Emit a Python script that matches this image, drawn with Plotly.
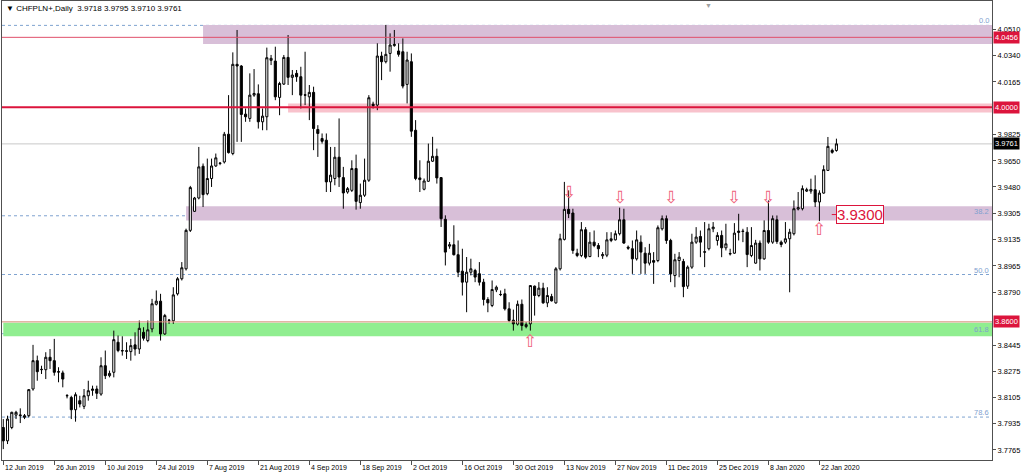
import pandas as pd
import plotly.graph_objects as go

symbol = "CHFPLN+"
timeframe = "Daily"

open_ = [3.7911, 3.7824, 3.7911, 3.7992, 3.7988, 3.7977, 3.7988, 3.8162, 3.8347, 3.8288,
         3.8288, 3.8369, 3.8347, 3.8275, 3.8267, 3.8120, 3.8107, 3.8027, 3.8086, 3.8049,
         3.8118, 3.8153, 3.8162, 3.8129, 3.8314, 3.8249, 3.8271, 3.8467, 3.8413, 3.8411,
         3.8406, 3.8450, 3.8423, 3.8532, 3.8478, 3.8554, 3.8715, 3.8735, 3.8521, 3.8609,
         3.8607, 3.8783, 3.8881, 3.8946, 3.9197, 3.9321, 3.9408, 3.9615, 3.9436, 3.9535,
         3.9617, 3.9633, 3.9643, 3.9824, 3.9698, 4.0280, 4.0269, 3.9955, 3.9927, 4.0079,
         4.0088, 3.9905, 3.9938, 4.0306, 4.0301, 4.0064, 4.0151, 4.0325, 4.0195, 4.0221,
         4.0199, 4.0081, 4.0068, 4.0097, 3.9855, 3.9796, 3.9785, 3.9513, 3.9535, 3.9674,
         3.9541, 3.9447, 3.9458, 3.9600, 3.9378, 3.9426, 3.9524, 4.0020, 4.0014, 4.0334,
         4.0297, 4.0351, 4.0402, 4.0367, 4.0362, 4.0149, 4.0297, 3.9850, 3.9539, 3.9465,
         3.9517, 3.9648, 3.9680, 3.9541, 3.9269, 3.9094, 3.9103, 3.9038, 3.8931, 3.8859,
         3.8924, 3.8935, 3.8914, 3.8859, 3.8746, 3.8707, 3.8809, 3.8779, 3.8783, 3.8685,
         3.8611, 3.8585, 3.8715, 3.8569, 3.8587, 3.8833, 3.8772, 3.8820, 3.8724, 3.8765,
         3.8724, 3.8946, 3.9138, 3.9334, 3.9310, 3.9048, 3.9033, 3.9201, 3.9026, 3.9120,
         3.9098, 3.9031, 3.9035, 3.9131, 3.9135, 3.9175, 3.9266, 3.9087, 3.9077, 3.9011,
         3.9120, 3.9048, 3.8983, 3.9000, 3.9000, 3.9207, 3.9273, 3.9131, 3.8902, 3.9000,
         3.8994, 3.8833, 3.8957, 3.9120, 3.9157, 3.9057, 3.9077, 3.9207, 3.9131, 3.9164,
         3.9083, 3.9046, 3.9048, 3.9183, 3.9192, 3.9185, 3.9033, 3.8983, 3.9114, 3.9011,
         3.9196, 3.9120, 3.9266, 3.9120, 3.9120, 3.9142, 3.9175, 3.9336, 3.9338, 3.9453,
         3.9453, 3.9462, 3.9382, 3.9440, 3.9588, 3.9719, 3.9718]
high = [3.7966, 3.7988, 3.8014, 3.8020, 3.8036, 3.7999, 3.8162, 3.8450, 3.8380, 3.8314,
        3.8402, 3.8423, 3.8489, 3.8304, 3.8282, 3.8129, 3.8118, 3.8140, 3.8118, 3.8162,
        3.8216, 3.8184, 3.8184, 3.8369, 3.8413, 3.8282, 3.8543, 3.8511, 3.8506, 3.8467,
        3.8489, 3.8532, 3.8609, 3.8565, 3.8609, 3.8750, 3.8805, 3.8783, 3.8652, 3.8619,
        3.8826, 3.8892, 3.8990, 3.9208, 3.9487, 3.9415, 3.9741, 3.9633, 3.9665, 3.9665,
        3.9698, 3.9643, 3.9839, 4.0079, 4.0358, 4.0504, 4.0275, 3.9992, 4.0221, 4.0249,
        4.0149, 3.9992, 4.0389, 4.0341, 4.0395, 4.0166, 4.0341, 4.0471, 4.0243, 4.0243,
        4.0264, 4.0362, 4.0145, 4.0134, 3.9883, 3.9829, 3.9829, 3.9741, 3.9741, 3.9927,
        3.9611, 3.9480, 3.9654, 3.9691, 3.9502, 3.9665, 4.0079, 4.0036, 4.0417, 4.0362,
        4.0537, 4.0482, 4.0504, 4.0417, 4.0449, 4.0362, 4.0351, 3.9916, 3.9654, 3.9535,
        3.9763, 3.9807, 3.9730, 3.9545, 3.9295, 3.9121, 3.9230, 3.9131, 3.9077, 3.9023,
        3.9012, 3.8946, 3.8990, 3.8881, 3.8761, 3.8870, 3.8837, 3.8805, 3.8816, 3.8728,
        3.8680, 3.8739, 3.8746, 3.8598, 3.8837, 3.8837, 3.8859, 3.8855, 3.8826, 3.8783,
        3.8957, 3.9175, 3.9513, 3.9458, 3.9338, 3.9077, 3.9251, 3.9218, 3.9185, 3.9196,
        3.9114, 3.9055, 3.9185, 3.9185, 3.9196, 3.9345, 3.9338, 3.9098, 3.9131, 3.9196,
        3.9164, 3.9087, 3.9109, 3.9055, 3.9229, 3.9294, 3.9294, 3.9142, 3.9044, 3.9055,
        3.9011, 3.8968, 3.9175, 3.9218, 3.9196, 3.9251, 3.9240, 3.9251, 3.9185, 3.9196,
        3.9240, 3.9077, 3.9244, 3.9305, 3.9207, 3.9218, 3.9218, 3.9135, 3.9131, 3.9262,
        3.9392, 3.9294, 3.9294, 3.9131, 3.9251, 3.9207, 3.9392, 3.9447, 3.9490, 3.9475,
        3.9534, 3.9556, 3.9458, 3.9621, 3.9806, 3.9730, 3.9795]
low = [3.7770, 3.7803, 3.7900, 3.7966, 3.7940, 3.7966, 3.7977, 3.8151, 3.8216, 3.8260,
       3.8227, 3.8293, 3.8249, 3.8206, 3.8173, 3.8101, 3.7966, 3.7949, 3.8042, 3.8031,
       3.8086, 3.8118, 3.8097, 3.8118, 3.8227, 3.8238, 3.8238, 3.8402, 3.8380, 3.8358,
       3.8347, 3.8380, 3.8391, 3.8478, 3.8467, 3.8532, 3.8707, 3.8478, 3.8515, 3.8587,
       3.8587, 3.8772, 3.8870, 3.8935, 3.9186, 3.9317, 3.9399, 3.9349, 3.9426, 3.9480,
       3.9611, 3.9622, 3.9633, 3.9698, 3.9687, 3.9774, 3.9774, 3.9905, 3.9905, 4.0068,
       3.9861, 3.9850, 3.9850, 4.0275, 4.0046, 3.9948, 4.0145, 4.0145, 4.0079, 4.0166,
       3.9992, 4.0014, 3.9916, 3.9720, 3.9676, 3.9763, 3.9447, 3.9447, 3.9491, 3.9480,
       3.9338, 3.9436, 3.9447, 3.9332, 3.9338, 3.9415, 3.9513, 3.9992, 3.9981, 4.0177,
       4.0286, 4.0232, 4.0395, 4.0330, 4.0123, 4.0025, 3.9807, 3.9524, 3.9447, 3.9458,
       3.9513, 3.9643, 3.9502, 3.9219, 3.8968, 3.9077, 3.9033, 3.8892, 3.8772, 3.8663,
       3.8903, 3.8859, 3.8837, 3.8707, 3.8663, 3.8696, 3.8794, 3.8768, 3.8674, 3.8598,
       3.8543, 3.8576, 3.8543, 3.8558, 3.8543, 3.8641, 3.8761, 3.8718, 3.8696, 3.8733,
       3.8718, 3.8935, 3.9131, 3.9277, 3.9044, 3.9022, 3.9022, 3.9011, 3.9022, 3.9087,
       3.9022, 3.9011, 3.9022, 3.9120, 3.9131, 3.9164, 3.9109, 3.9070, 3.8913, 3.9000,
       3.8913, 3.8913, 3.8968, 3.8848, 3.8989, 3.9196, 3.9109, 3.8859, 3.8826, 3.8891,
       3.8761, 3.8815, 3.8946, 3.9109, 3.9022, 3.8957, 3.9066, 3.9185, 3.9098, 3.9022,
       3.9066, 3.9033, 3.9044, 3.9131, 3.9120, 3.8957, 3.9022, 3.8979, 3.8935, 3.9005,
       3.9109, 3.9109, 3.9109, 3.9087, 3.9109, 3.8793, 3.9164, 3.9327, 3.9327, 3.9447,
       3.9436, 3.9349, 3.9257, 3.9436, 3.9584, 3.9697, 3.9710]
close = [3.7824, 3.7966, 3.8010, 3.8010, 3.7992, 3.7988, 3.8158, 3.8347, 3.8275, 3.8290,
         3.8369, 3.8347, 3.8271, 3.8273, 3.8227, 3.8118, 3.8027, 3.8125, 3.8064, 3.8118,
         3.8151, 3.8162, 3.8134, 3.8314, 3.8249, 3.8264, 3.8484, 3.8413, 3.8411, 3.8409,
         3.8445, 3.8423, 3.8558, 3.8493, 3.8548, 3.8718, 3.8735, 3.8521, 3.8641, 3.8611,
         3.8776, 3.8881, 3.8953, 3.9197, 3.9476, 3.9408, 3.9611, 3.9430, 3.9535, 3.9617,
         3.9670, 3.9635, 3.9824, 3.9704, 4.0280, 4.0269, 3.9953, 3.9938, 4.0079, 4.0090,
         3.9905, 3.9942, 4.0323, 4.0319, 4.0068, 4.0155, 4.0325, 4.0195, 4.0210, 4.0199,
         4.0079, 4.0079, 4.0097, 3.9861, 3.9829, 3.9778, 3.9513, 3.9557, 3.9674, 3.9545,
         3.9441, 3.9469, 3.9600, 3.9386, 3.9426, 3.9524, 4.0062, 4.0010, 4.0334, 4.0297,
         4.0345, 4.0406, 4.0410, 4.0345, 4.0138, 4.0308, 3.9844, 3.9535, 3.9528, 3.9519,
         3.9648, 3.9680, 3.9539, 3.9273, 3.9055, 3.9103, 3.9038, 3.8924, 3.8859, 3.8924,
         3.8946, 3.8892, 3.8859, 3.8746, 3.8724, 3.8811, 3.8826, 3.8778, 3.8685, 3.8609,
         3.8587, 3.8715, 3.8576, 3.8582, 3.8837, 3.8772, 3.8820, 3.8724, 3.8772, 3.8737,
         3.8946, 3.9142, 3.9334, 3.9306, 3.9066, 3.9033, 3.9201, 3.9022, 3.9120, 3.9098,
         3.9077, 3.9039, 3.9135, 3.9142, 3.9175, 3.9266, 3.9114, 3.9081, 3.9011, 3.9135,
         3.9055, 3.8983, 3.9048, 3.8989, 3.9214, 3.9273, 3.9131, 3.8913, 3.9005, 3.9022,
         3.8830, 3.8957, 3.9120, 3.9153, 3.9120, 3.9055, 3.9207, 3.9218, 3.9164, 3.9083,
         3.9109, 3.9044, 3.9179, 3.9192, 3.9190, 3.9039, 3.9098, 3.9114, 3.9011, 3.9196,
         3.9120, 3.9273, 3.9124, 3.9105, 3.9142, 3.9185, 3.9338, 3.9345, 3.9469, 3.9462,
         3.9464, 3.9382, 3.9440, 3.9593, 3.9745, 3.9706, 3.9761]

# broker sessions run Sunday..Friday (no Saturday bars)
all_days = pd.date_range("2019-06-12", "2020-02-15", freq="D")
sessions = [d for d in all_days if d.weekday() != 5][:len(close)]
dates = [d.strftime("%Y-%m-%d") for d in sessions]

x_label_dates = ["2019-06-12", "2019-06-26", "2019-07-10", "2019-07-24", "2019-08-07",
                 "2019-08-21", "2019-09-04", "2019-09-18", "2019-10-02", "2019-10-16",
                 "2019-10-30", "2019-11-13", "2019-11-27", "2019-12-11", "2019-12-25",
                 "2020-01-08", "2020-01-22"]
x_label_text = ["12 Jun 2019", "26 Jun 2019", "10 Jul 2019", "24 Jul 2019", "7 Aug 2019",
                "21 Aug 2019", "4 Sep 2019", "18 Sep 2019", "2 Oct 2019", "16 Oct 2019",
                "30 Oct 2019", "13 Nov 2019", "27 Nov 2019", "11 Dec 2019", "25 Dec 2019",
                "8 Jan 2020", "22 Jan 2020"]

y_ticks = [4.0510, 4.0340, 4.0165, 3.9825, 3.9650, 3.9480, 3.9305, 3.9135, 3.8965,
           3.8790, 3.8445, 3.8275, 3.8105, 3.7935, 3.7765]

fib_labels = ["0.0", "38.2", "50.0", "61.8", "78.6"]
fib_prices = [4.0534, 3.9292, 3.8909, 3.8523, 3.7979]

zone_start = ["2019-08-06", "2019-08-29", "2019-08-01", "2019-06-12"]
zone_top = [4.0537, 4.0025, 3.9354, 3.8594]
zone_bottom = [4.0412, 3.9966, 3.9262, 3.8506]
zone_color = ["#d8bfd8", "#f8c2cc", "#d8bfd8", "#90ee90"]

level_prices = [4.0456, 4.0000, 3.8600]
level_colors = ["#e0506a", "#dc143c", "#d48a72"]
level_widths = [1, 2, 1]

down_arrow_dates = ["2019-11-14", "2019-11-28", "2019-12-12", "2019-12-30", "2020-01-08"]
down_arrow_prices = [3.9445, 3.9412, 3.9412, 3.9412, 3.9412]
up_arrow_dates = ["2019-11-04", "2020-01-22"]
up_arrow_prices = [3.8477, 3.9203]

marked_level = 3.9300

x_range = [-0.3, 232.6]
y_range = [3.7699, 4.0693]
FONT = "Liberation Sans, Arial, sans-serif"
PINK = "#ee5f7a"
RED = "#dc143c"

fig = go.Figure()
fig.add_trace(go.Candlestick(
    x=dates, open=open_, high=high, low=low, close=close,
    increasing=dict(line=dict(color="black", width=1), fillcolor="white"),
    decreasing=dict(line=dict(color="black", width=1), fillcolor="black"),
    whiskerwidth=0, hoverinfo="skip", showlegend=False))

shapes = []
for s, t, b, c in zip(zone_start, zone_top, zone_bottom, zone_color):
    shapes.append(dict(type="rect", xref="x", yref="y", x0=dates.index(s), x1=x_range[1],
                       y0=b, y1=t, fillcolor=c, line=dict(width=0), layer="below"))
for p in fib_prices:
    shapes.append(dict(type="line", xref="paper", yref="y", x0=0, x1=1, y0=p, y1=p,
                       line=dict(color="#7fa3d0", width=1, dash="dot"), layer="below"))
shapes.append(dict(type="line", xref="paper", yref="y", x0=0, x1=1, y0=close[-1], y1=close[-1],
                   line=dict(color="#c8c8c8", width=1), layer="below"))
for p, c, w in zip(level_prices, level_colors, level_widths):
    shapes.append(dict(type="line", xref="paper", yref="y", x0=0, x1=1, y0=p, y1=p,
                       line=dict(color=c, width=w), layer="above"))
last_i = len(dates) - 1
shapes.append(dict(type="line", xref="x", yref="y", x0=last_i - 1.1, x1=last_i,
                   y0=marked_level, y1=marked_level, line=dict(color=RED, width=1)))

ann = []
ann.append(dict(xref="paper", yref="paper", x=0, y=1, xanchor="left", yanchor="top",
                xshift=2, yshift=-1, showarrow=False,
                text=f"▼ {symbol},{timeframe}  {open_[-1]:.4f} {high[-1]:.4f} {low[-1]:.4f} {close[-1]:.4f}",
                font=dict(family=FONT, size=8, color="black")))
ann.append(dict(xref="paper", yref="paper", x=(714 - 2) / 990, y=1, yanchor="top", yshift=1,
                showarrow=False, text="▼", font=dict(family=FONT, size=7, color="#a0a0a0")))
for d, t in zip(x_label_dates, x_label_text):
    ann.append(dict(xref="x", yref="paper", x=dates.index(d), y=0, xanchor="left", yanchor="top",
                    xshift=0, yshift=-2, showarrow=False, text=t,
                    font=dict(family=FONT, size=7, color="black")))
for lab, p in zip(fib_labels, fib_prices):
    ann.append(dict(xref="paper", yref="y", x=1, y=p, xanchor="right", yanchor="bottom",
                    xshift=-1, yshift=-2, showarrow=False, text=lab,
                    font=dict(family=FONT, size=7.5, color="#7f9fcf")))
for p in level_prices:
    ann.append(dict(xref="paper", yref="y", x=1, y=p, xanchor="left", yanchor="middle",
                    xshift=1, showarrow=False, text=f"{p:.4f}", bgcolor=RED, borderpad=1,
                    font=dict(family=FONT, size=7.5, color="white")))
ann.append(dict(xref="paper", yref="y", x=1, y=close[-1], xanchor="left", yanchor="middle",
                xshift=1, showarrow=False, text=f"{close[-1]:.4f}", bgcolor="black", borderpad=1,
                font=dict(family=FONT, size=7.5, color="white")))
for d, p in zip(down_arrow_dates, down_arrow_prices):
    ann.append(dict(xref="x", yref="y", x=dates.index(d), y=p, showarrow=False, text="⇩",
                    font=dict(family="DejaVu Sans", size=17, color=PINK)))
for d, p in zip(up_arrow_dates, up_arrow_prices):
    ann.append(dict(xref="x", yref="y", x=dates.index(d), y=p, showarrow=False, text="⇧",
                    font=dict(family="DejaVu Sans", size=17, color=PINK)))
ann.append(dict(xref="x", yref="y", x=last_i, y=marked_level, xanchor="left", yanchor="middle",
                showarrow=False, text=f"{marked_level:.4f}", bgcolor="white",
                bordercolor=RED, borderwidth=1, borderpad=0,
                font=dict(family=FONT, size=15, color=RED)))

fig.update_layout(
    width=1024, height=474,
    margin=dict(l=2, r=32, t=1, b=14),
    paper_bgcolor="white", plot_bgcolor="white",
    showlegend=False, shapes=shapes, annotations=ann,
    font=dict(family=FONT, size=8, color="black"),
    xaxis=dict(type="category", range=x_range, showgrid=False, zeroline=False,
               showline=True, linecolor="#505050", linewidth=1, mirror=True,
               tickmode="array", tickvals=x_label_dates, showticklabels=False,
               ticks="outside", ticklen=4, tickcolor="#505050",
               rangeslider=dict(visible=False), fixedrange=True),
    yaxis=dict(side="right", range=y_range, showgrid=False, zeroline=False,
               showline=True, linecolor="#505050", linewidth=1, mirror=True,
               tickmode="array", tickvals=y_ticks, ticktext=[f"{v:.4f}" for v in y_ticks],
               ticks="outside", ticklen=3, tickcolor="#505050",
               tickfont=dict(family=FONT, size=7.5, color="black"), fixedrange=True),
)

fig.write_html("out.html", config={"displayModeBar": False},
               post_script="document.body.style.margin='0';document.body.style.overflow='hidden';")
